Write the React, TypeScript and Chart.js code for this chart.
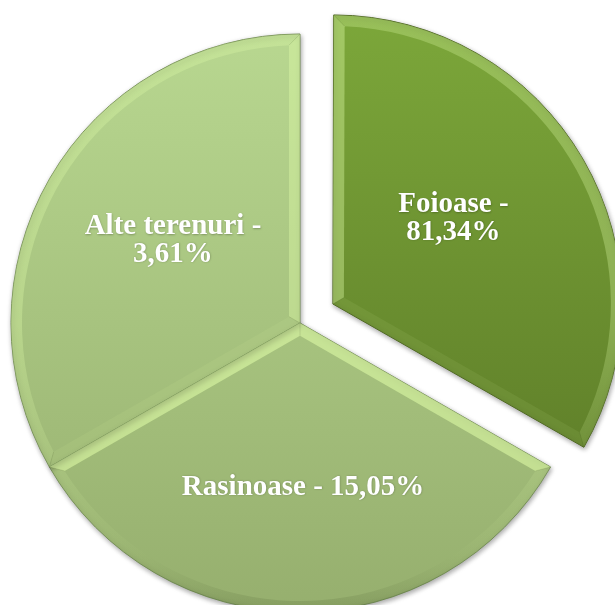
import React, { useEffect, useRef } from "react";
import { Chart, registerables } from "chart.js";

Chart.register(...registerables);

// ---- data ----
const categories = ["Foioase", "Rasinoase", "Alte terenuri"];
const percentLabels = ["81,34%", "15,05%", "3,61%"];
// share of the circle each slice occupies as drawn in the picture (three equal sectors)
const sliceShares = [33.3, 33.4, 33.3];
// Chart.js arc offset (translation = offset / 4)
const explodeOffsets = [152, 0, 0];

// ---- style ----
const topColors = ["#7ca73a", "#b8d790", "#b8d790"];
const bottomColors = ["#587525", "#96af6e", "#96af6e"];
const borderColors = ["#4a641c", "#728c54", "#728c54"];
const PIE_RADIUS = 289;
const BEVEL = 11;
const FONT = "bold 29px 'Liberation Serif', 'Times New Roman', serif";
const LINE_H = 27.5;
// label placement: clockwise angle from 12 o'clock (deg) and distance from slice vertex
const labelLayout = [
  { angle: 54, dist: 149, wrap: true },
  { angle: 178.9, dist: 162, wrap: false },
  { angle: 303.6, dist: 152.5, wrap: true },
];

function radiusGrowth(el: any) {
  const o = (el.options.offset || 0) / 4;
  const circ = el.endAngle - el.startAngle;
  return o * (1 - Math.sin(Math.min(Math.PI, circ)));
}

function sliceGeom(el: any) {
  const o = (el.options.offset || 0) / 4;
  const a0 = el.startAngle;
  const a1 = el.endAngle;
  const half = (a0 + a1) / 2;
  const circ = a1 - a0;
  const rOff = radiusGrowth(el);
  const R = el.outerRadius + rOff;
  const beta = Math.max(0.001, circ * R - rOff / Math.PI) / R;
  const ao = (circ - beta) / 2;
  return {
    vx: el.x + Math.cos(half) * o,
    vy: el.y + Math.sin(half) * o,
    R,
    a0: a0 + ao,
    a1: a1 - ao,
  };
}

function shade(ny: number) {
  let a = 0.38 - 0.35 * ny;
  a = Math.max(-0.2, Math.min(0.55, a));
  return a >= 0 ? `rgba(225,255,170,${a})` : `rgba(30,45,10,${-a})`;
}

const piePlugin = {
  id: "pieDecor",
  afterUpdate(chart: any) {
    // keep the exploded slice at the same radius as the others
    const meta = chart.getDatasetMeta(0);
    meta.data.forEach((el: any) => {
      const g = radiusGrowth(el);
      if (g > 0) el.outerRadius = el.outerRadius - g;
    });
  },
  beforeDatasetsDraw(chart: any) {
    const ctx = chart.ctx;
    ctx.save();
    ctx.shadowColor = "rgba(0,0,0,0.35)";
    ctx.shadowBlur = 5;
    ctx.shadowOffsetX = 1;
    ctx.shadowOffsetY = 2;
  },
  afterDatasetsDraw(chart: any) {
    const ctx = chart.ctx;
    ctx.restore();
    const meta = chart.getDatasetMeta(0);
    meta.data.forEach((el: any, i: number) => {
      const { vx, vy, R, a0, a1 } = sliceGeom(el);
      const b = BEVEL;
      const alpha = a1 - a0;
      const u0 = [Math.cos(a0), Math.sin(a0)];
      const u1 = [Math.cos(a1), Math.sin(a1)];
      const n0 = [-Math.sin(a0), Math.cos(a0)];
      const n1 = [Math.sin(a1), -Math.cos(a1)];
      const ri = R - b;
      const s = Math.sqrt(ri * ri - b * b);
      const P0 = [vx + u0[0] * R, vy + u0[1] * R];
      const P1 = [vx + u1[0] * R, vy + u1[1] * R];
      const Q0 = [vx + n0[0] * b + u0[0] * s, vy + n0[1] * b + u0[1] * s];
      const Q1 = [vx + n1[0] * b + u1[0] * s, vy + n1[1] * b + u1[1] * s];
      const d = b / Math.sin(alpha / 2);
      const mid = (a0 + a1) / 2;
      const V2 = [vx + Math.cos(mid) * d, vy + Math.sin(mid) * d];
      const da = Math.asin(b / ri);
      const ai0 = a0 + da;
      const ai1 = a1 - da;

      ctx.save();
      // side 0
      ctx.beginPath();
      ctx.moveTo(vx, vy);
      ctx.lineTo(P0[0], P0[1]);
      ctx.lineTo(Q0[0], Q0[1]);
      ctx.lineTo(V2[0], V2[1]);
      ctx.closePath();
      ctx.fillStyle = shade(-n0[1]);
      ctx.fill();
      // side 1
      ctx.beginPath();
      ctx.moveTo(vx, vy);
      ctx.lineTo(P1[0], P1[1]);
      ctx.lineTo(Q1[0], Q1[1]);
      ctx.lineTo(V2[0], V2[1]);
      ctx.closePath();
      ctx.fillStyle = shade(-n1[1]);
      ctx.fill();
      // arc band
      ctx.beginPath();
      ctx.arc(vx, vy, R, a0, a1);
      ctx.lineTo(Q1[0], Q1[1]);
      ctx.arc(vx, vy, ri, ai1, ai0, true);
      ctx.closePath();
      const g = ctx.createLinearGradient(0, vy - R, 0, vy + R);
      g.addColorStop(0, "rgba(225,255,170,0.28)");
      g.addColorStop(0.5, "rgba(225,255,170,0.3)");
      g.addColorStop(0.85, "rgba(225,255,170,0.06)");
      g.addColorStop(1, "rgba(30,45,10,0.15)");
      ctx.fillStyle = g;
      ctx.fill();
      // miter lines
      ctx.strokeStyle = "rgba(40,60,15,0.12)";
      ctx.lineWidth = 1;
      ctx.beginPath();
      ctx.moveTo(vx, vy);
      ctx.lineTo(V2[0], V2[1]);
      ctx.moveTo(P0[0], P0[1]);
      ctx.lineTo(Q0[0], Q0[1]);
      ctx.moveTo(P1[0], P1[1]);
      ctx.lineTo(Q1[0], Q1[1]);
      ctx.stroke();
      ctx.restore();

      // label
      const lay = labelLayout[i];
      const ang = (lay.angle * Math.PI) / 180;
      const cx = vx + lay.dist * Math.sin(ang);
      const cy = vy - lay.dist * Math.cos(ang);
      ctx.save();
      ctx.font = FONT;
      ctx.fillStyle = "#ffffff";
      ctx.textAlign = "center";
      ctx.textBaseline = "alphabetic";
      ctx.shadowColor = "rgba(0,0,0,0.25)";
      ctx.shadowBlur = 2;
      ctx.shadowOffsetX = 0.5;
      ctx.shadowOffsetY = 0.5;
      const capHalf = 9.6;
      if (lay.wrap) {
        ctx.fillText(categories[i] + " -", cx, cy - LINE_H / 2 + capHalf);
        ctx.fillText(percentLabels[i], cx, cy + LINE_H / 2 + capHalf);
      } else {
        ctx.fillText(categories[i] + " - " + percentLabels[i], cx, cy + capHalf);
      }
      ctx.restore();
    });
  },
};

export default function App() {
  const ref = useRef<HTMLCanvasElement | null>(null);
  useEffect(() => {
    if (!ref.current) return;
    const chart = new Chart(ref.current, {
      type: "pie",
      data: {
        labels: categories,
        datasets: [
          {
            data: sliceShares,
            offset: explodeOffsets,
            borderWidth: 1,
            borderColor: borderColors,
            backgroundColor: (c: any) => {
              const i = c.dataIndex ?? 0;
              const ch = c.chart;
              const ca = ch.chartArea;
              if (!ca) return topColors[i];
              const cy = (ca.top + ca.bottom) / 2;
              const g = ch.ctx.createLinearGradient(0, cy - PIE_RADIUS, 0, cy + PIE_RADIUS);
              g.addColorStop(0, topColors[i]);
              g.addColorStop(1, bottomColors[i]);
              return g;
            },
          } as any,
        ],
      },
      options: {
        responsive: false,
        animation: false,
        events: [],
        radius: PIE_RADIUS,
        layout: { padding: 0 },
        plugins: {
          legend: { display: false },
          tooltip: { enabled: false },
        },
      } as any,
      plugins: [piePlugin],
    });
    return () => chart.destroy();
  }, []);

  return (
    <div
      style={{
        position: "fixed",
        left: 0,
        top: 0,
        width: 615,
        height: 605,
        overflow: "hidden",
        background: "#ffffff",
      }}
    >
      <canvas
        ref={ref}
        width={700}
        height={700}
        style={{ position: "absolute", left: -50, top: -27 }}
      />
    </div>
  );
}
